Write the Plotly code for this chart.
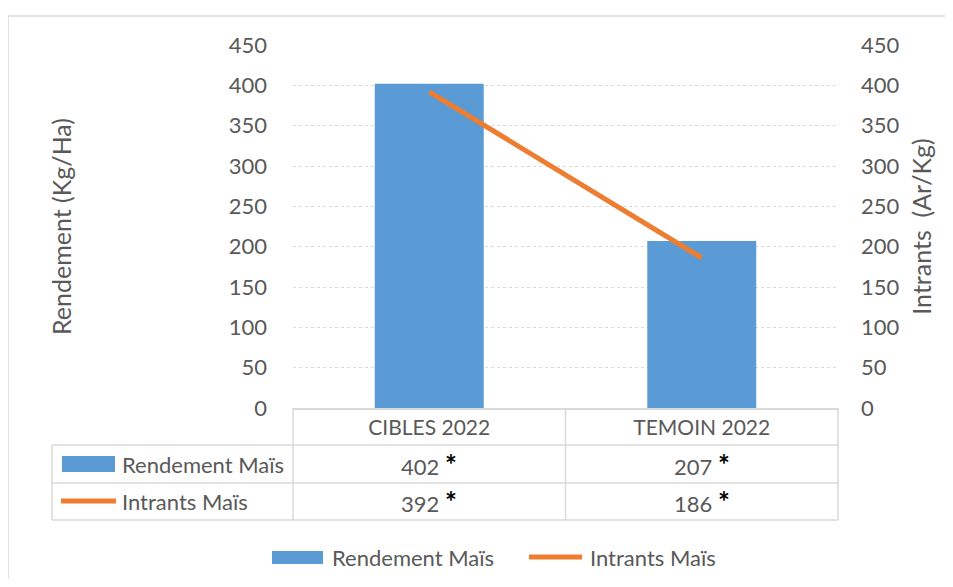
import plotly.graph_objects as go

categories = ["CIBLES 2022", "TEMOIN 2022"]
rendement = [402, 207]
intrants = [392, 186]
series_names = ["Rendement Maïs", "Intrants Maïs"]
tick_values = [0, 50, 100, 150, 200, 250, 300, 350, 400, 450]

BLUE = "#5B9BD5"
ORANGE = "#ED7D31"
GREY_TEXT = "#595959"
GRID = "#D9D9D9"
FONT = "Lato"
SIZE = 22

# the page body adds an 8px margin on every side; keep the figure inside it
# so the browser does not add scrollbars
OFF = 8
W, H = 953, 587
# plot area, in screen pixels
L, R, T, B = 293, 838, 45, 408


def px(x):
    return (x - L) / (R - L)


def py(y):
    return (B - y) / (B - T)


def hline(x0, x1, y, color=GRID, width=1.5):
    return dict(type="line", xref="paper", yref="paper",
                x0=px(x0), x1=px(x1), y0=py(y), y1=py(y),
                line=dict(color=color, width=width))


def vline(x, y0, y1, color=GRID, width=1.5):
    return dict(type="line", xref="paper", yref="paper",
                x0=px(x), x1=px(x), y0=py(y0), y1=py(y1),
                line=dict(color=color, width=width))


def rect(x0, y0, x1, y1, fill):
    return dict(type="rect", xref="paper", yref="paper",
                x0=px(x0), x1=px(x1), y0=py(y0), y1=py(y1),
                fillcolor=fill, line=dict(width=0))


def text_at(x, y, s, xanchor="left", size=SIZE):
    return dict(xref="paper", yref="paper", x=px(x), y=py(y), text=s,
                showarrow=False, xanchor=xanchor, yanchor="middle",
                font=dict(family=FONT, size=size, color=GREY_TEXT))


fig = go.Figure()
fig.add_trace(go.Bar(
    x=categories, y=rendement, name=series_names[0],
    marker=dict(color=BLUE, line=dict(width=0)), width=0.4,
))
fig.add_trace(go.Scatter(
    x=categories, y=intrants, name=series_names[1], yaxis="y2",
    mode="lines", line=dict(color=ORANGE, width=5),
))

axis_common = dict(
    range=[0, 450], tickvals=tick_values, ticks="",
    tickfont=dict(family=FONT, size=SIZE, color=GREY_TEXT),
    zeroline=False, fixedrange=True,
)

shapes = [
    # chart area border (top and left edges, the rest is off-screen)
    hline(8, 1000, 16),
    vline(8, 16, 700),
    # data table grid
    hline(52, R, 445),
    hline(52, R, 483),
    hline(52, R, 520),
    vline(52, 445, 520),
    vline(L, B, 520),
    vline((L + R) / 2, B, 520),
    vline(R, B, 520),
    # table legend keys
    rect(62, 456, 115, 472, fill=BLUE),
    dict(type="line", xref="paper", yref="paper",
         x0=px(61), x1=px(116), y0=py(501), y1=py(501),
         line=dict(color=ORANGE, width=5)),
    # bottom legend keys
    rect(272, 551, 323, 564, fill=BLUE),
    dict(type="line", xref="paper", yref="paper",
         x0=px(529), x1=px(582), y0=py(557), y1=py(557),
         line=dict(color=ORANGE, width=5)),
]

star = " <b><span style='color:black;font-size:28px'>*</span></b>"
annotations = [
    text_at(120, 464, series_names[0]),
    text_at(120, 501, series_names[1]),
    text_at(330, 557, series_names[0]),
    text_at(588, 557, series_names[1]),
]
for cat, r, i in zip(categories, rendement, intrants):
    for val, yrow in ((r, 464), (i, 501)):
        annotations.append(dict(
            xref="x", yref="paper", x=cat, y=py(yrow), text=f"{val}{star}",
            showarrow=False, xanchor="center", yanchor="middle",
            font=dict(family=FONT, size=SIZE, color=GREY_TEXT),
        ))

fig.update_layout(
    width=W - 2 * OFF, height=H - 2 * OFF,
    margin=dict(l=L - OFF, r=W - OFF - R, t=T - OFF, b=H - OFF - B,
                autoexpand=False),
    paper_bgcolor="white", plot_bgcolor="white",
    font=dict(family=FONT, size=SIZE, color=GREY_TEXT),
    showlegend=False,
    bargap=0.6,
    xaxis=dict(
        tickfont=dict(family=FONT, size=SIZE - 1, color=GREY_TEXT),
        showline=True, linecolor=GRID, linewidth=1.5,
        showgrid=False, ticks="", ticklabelstandoff=0, fixedrange=True,
    ),
    yaxis=dict(
        **axis_common,
        showgrid=True, gridcolor=GRID, griddash="dot", gridwidth=1,
        ticklabelstandoff=25,
        title=dict(text="Rendement (Kg/Ha)", standoff=149,
                   font=dict(family=FONT, size=25, color=GREY_TEXT)),
    ),
    yaxis2=dict(
        **axis_common,
        overlaying="y", side="right", showgrid=False,
        ticklabelstandoff=22,
        title=dict(text="Intrants  (Ar/Kg)", standoff=14,
                   font=dict(family=FONT, size=25, color=GREY_TEXT)),
    ),
    shapes=shapes,
    annotations=annotations,
)

fig.write_html("out.html")
